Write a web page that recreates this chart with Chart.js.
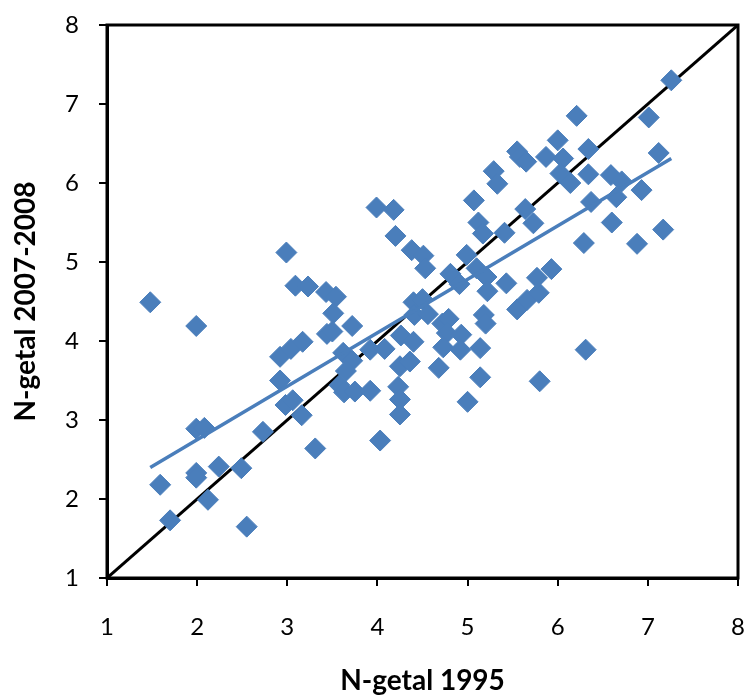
<!DOCTYPE html>
<html lang="nl">
<head>
<meta charset="UTF-8">
<title>N-getal 1995 vs 2007-2008</title>
<script src="https://cdn.jsdelivr.net/npm/chart.js"></script>
<style>
  html, body { margin: 0; padding: 0; background: #fff; }
  #wrap { width: 750px; height: 699px; }
</style>
</head>
<body>
<div id="wrap"><canvas id="chart"></canvas></div>
<script>
  // N-getal per site, 1995 (x) against 2007-2008 (y)
  const nGetal1995 = [
    1.48, 1.99, 1.59, 1.70, 1.99, 2.08, 1.99, 1.99, 2.12, 2.24,
    2.49, 2.55, 2.73, 2.92, 2.92, 3.04, 3.17, 2.99, 3.09, 3.23,
    2.98, 3.06, 3.16, 3.31, 3.44, 3.50, 3.43, 3.54, 3.51, 3.72,
    3.62, 3.72, 3.65, 3.58, 3.63, 3.75, 3.92, 3.92, 4.08, 3.99,
    4.18, 4.20, 4.38, 4.51, 4.53, 4.03, 4.26, 4.40, 4.25, 4.36,
    4.23, 4.25, 4.25, 4.40, 4.50, 4.41, 4.56, 4.72, 4.79, 4.77,
    4.93, 4.73, 4.92, 5.14, 4.68, 5.14, 5.00, 4.99, 4.81, 4.91,
    5.10, 5.21, 5.22, 5.43, 5.18, 5.20, 5.55, 5.66, 5.79, 5.77,
    5.93, 5.80, 6.31, 5.07, 5.12, 5.17, 5.29, 5.33, 5.41, 5.64,
    5.73, 5.55, 5.58, 5.65, 5.87, 6.00, 6.06, 6.03, 6.14, 6.21,
    6.34, 6.34, 6.37, 6.29, 6.59, 6.71, 6.65, 6.93, 6.60, 6.88,
    7.17, 7.01, 7.12, 7.26
  ];
  const nGetal2007 = [
    4.49, 4.19, 2.18, 1.73, 2.89, 2.90, 2.33, 2.27, 1.99, 2.41,
    2.39, 1.65, 2.85, 3.50, 3.80, 3.90, 3.99, 5.12, 4.70, 4.69,
    3.19, 3.25, 3.06, 2.64, 4.09, 4.12, 4.62, 4.56, 4.35, 4.19,
    3.85, 3.75, 3.62, 3.44, 3.35, 3.36, 3.37, 3.89, 3.90, 5.69,
    5.66, 5.33, 5.15, 5.08, 4.92, 2.74, 4.07, 3.99, 3.68, 3.74,
    3.42, 3.26, 3.07, 4.49, 4.53, 4.33, 4.34, 4.22, 4.28, 4.10,
    4.08, 3.92, 3.89, 3.91, 3.66, 3.54, 3.23, 5.09, 4.85, 4.72,
    4.92, 4.81, 4.63, 4.73, 4.33, 4.22, 4.40, 4.52, 4.61, 4.80,
    4.91, 3.49, 3.89, 5.78, 5.50, 5.36, 6.15, 5.99, 5.37, 5.67,
    5.49, 6.40, 6.33, 6.27, 6.33, 6.54, 6.31, 6.12, 6.00, 6.85,
    6.43, 6.11, 5.76, 5.24, 6.10, 6.02, 5.82, 5.91, 5.50, 5.23,
    5.41, 6.83, 6.38, 7.30
  ];

  // 1:1 line and the linear trendline (end points)
  const diagonalX = [1, 8];
  const diagonalY = [1, 8];
  const trendX = [1.48, 7.26];
  const trendY = [2.40, 6.31];

  const tickValues = [1, 2, 3, 4, 5, 6, 7, 8];

  const toPoints = (xs, ys) => xs.map((x, i) => ({ x: x, y: ys[i] }));

  const blue = '#4A7EBB';
  const labelFont = { family: 'Lato, "Open Sans", sans-serif', size: 24 };
  const titleFont = { family: 'Lato, "Open Sans", sans-serif', size: 28, weight: 'bold' };

  // black frame round the plot area
  const frame = {
    id: 'frame',
    afterDatasetsDraw(chart) {
      const { ctx, chartArea: a } = chart;
      ctx.save();
      ctx.strokeStyle = '#000';
      ctx.lineWidth = 3;
      ctx.strokeRect(a.left, a.top, a.right - a.left, a.bottom - a.top);
      ctx.restore();
    }
  };

  const axisTicks = (s) => { s.ticks = tickValues.map(v => ({ value: v })); };

  new Chart(document.getElementById('chart'), {
    type: 'scatter',
    data: {
      datasets: [
        {
          label: 'trend',
          type: 'line',
          data: toPoints(trendX, trendY),
          borderColor: blue,
          borderWidth: 3.5,
          pointRadius: 0,
          order: 0
        },
        {
          label: 'N-getal',
          data: toPoints(nGetal1995, nGetal2007),
          pointStyle: 'rectRot',
          pointRadius: 10.5,
          pointBackgroundColor: blue,
          pointBorderColor: blue,
          pointBorderWidth: 1,
          order: 1
        },
        {
          label: '1:1',
          type: 'line',
          data: toPoints(diagonalX, diagonalY),
          borderColor: '#000',
          borderWidth: 3,
          pointRadius: 0,
          order: 2
        }
      ]
    },
    options: {
      responsive: true,
      maintainAspectRatio: false,
      animation: false,
      layout: { padding: { top: 25, right: 12, left: 0, bottom: 0 } },
      plugins: { legend: { display: false }, tooltip: { enabled: false } },
      scales: {
        x: {
          type: 'linear',
          min: 1,
          max: 8,
          afterBuildTicks: axisTicks,
          afterFit: (s) => { s.height = 121; s.paddingLeft = 0; s.paddingRight = 0; },
          ticks: { font: labelFont, color: '#000', padding: 27 },
          grid: { drawOnChartArea: false, color: '#000', lineWidth: 2, tickLength: 8 },
          border: { display: true, color: '#000', width: 3 },
          title: { display: true, text: 'N-getal 1995', font: titleFont, color: '#000', padding: { bottom: 1 } }
        },
        y: {
          type: 'linear',
          min: 1,
          max: 8,
          afterBuildTicks: axisTicks,
          afterFit: (s) => { s.width = 107; s.paddingTop = 0; s.paddingBottom = 0; },
          ticks: { font: labelFont, color: '#000', padding: 20 },
          grid: { drawOnChartArea: false, color: '#000', lineWidth: 2, tickLength: 8 },
          border: { display: true, color: '#000', width: 3 },
          title: { display: true, text: 'N-getal 2007-2008', font: titleFont, color: '#000', padding: { top: 9 } }
        }
      }
    },
    plugins: [frame]
  });
</script>
</body>
</html>
